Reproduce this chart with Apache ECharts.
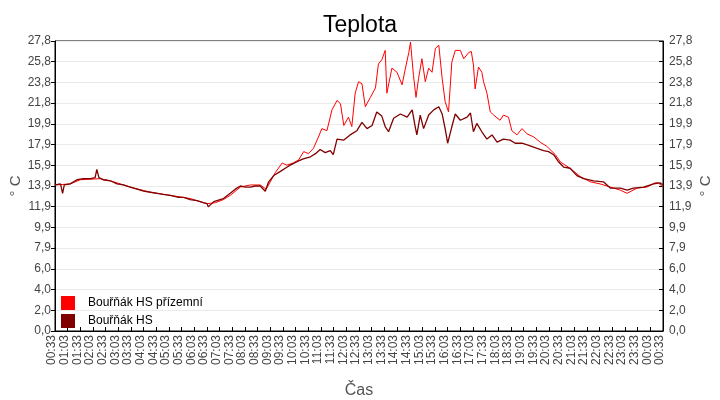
<!DOCTYPE html>
<html>
<head>
<meta charset="utf-8">
<script src="https://cdn.jsdelivr.net/npm/echarts@6/dist/echarts.min.js"></script>
<style>
html,body{margin:0;padding:0;background:#fff;}
#chart{width:720px;height:400px;}
</style>
</head>
<body>
<div id="chart"></div>
<script>
// minutes after 00:33, temperature
var redPoints = [
	[0,14.0],[36,14.1],[60,14.5],[107,14.6],[131,14.4],[178,13.8],[226,13.3],[273,13.0],
	[320,12.7],[344,12.4],[360,12.2],[380,12.3],[399,12.6],[415,13.0],[439,13.8],[463,14.0],
	[486,14.0],[500,13.6],[510,14.3],[522,15.2],[538,16.1],[549,15.9],[564,16.1],[577,16.4],
	[589,17.2],[600,17.0],[612,17.5],[624,18.6],[632,19.4],[644,19.2],[656,21.2],[668,22.1],
	[676,21.8],[684,19.7],[695,20.5],[703,19.6],[711,22.8],[719,23.9],[727,23.7],[735,21.5],
	[747,22.4],[759,23.3],[766,25.6],[774,26.0],[782,26.9],[786,22.8],[798,25.2],[810,24.8],
	[822,23.6],[830,25.2],[838,26.7],[842,27.7],[849,24.5],[855,22.4],[861,24.2],[869,26.1],
	[877,23.9],[885,25.2],[893,24.8],[901,27.1],[909,27.4],[917,24.2],[924,22.0],[932,21.0],
	[940,25.8],[948,26.9],[960,26.9],[968,26.1],[980,26.7],[986,26.8],[991,25.5],[995,23.2],
	[1003,25.3],[1011,24.8],[1015,23.9],[1023,22.8],[1031,21.0],[1039,20.7],[1054,20.2],[1062,20.7],
	[1074,20.5],[1082,19.2],[1094,18.8],[1106,19.4],[1118,18.9],[1134,18.6],[1149,18.1],[1165,17.7],
	[1185,16.9],[1197,16.2],[1220,15.6],[1244,14.8],[1268,14.3],[1291,14.1],[1315,13.8],[1339,13.5],
	[1355,13.2],[1379,13.7],[1402,13.8],[1421,14.2],[1429,14.2],[1440,13.8]
];
var darkPoints = [
	[0,14.0],[13,14.1],[18,13.2],[22,14.0],[36,14.1],[52,14.5],[67,14.6],[84,14.6],
	[95,14.7],[99,15.5],[104,14.7],[114,14.5],[131,14.4],[147,14.1],[162,14.0],[178,13.8],
	[194,13.6],[210,13.4],[226,13.3],[242,13.2],[256,13.1],[273,13.0],[293,12.8],[305,12.8],
	[320,12.6],[336,12.5],[351,12.3],[360,12.2],[363,11.9],[376,12.4],[391,12.6],[399,12.7],
	[415,13.2],[427,13.6],[439,13.9],[451,13.8],[463,13.8],[474,13.9],[486,13.9],[498,13.4],
	[506,14.3],[518,14.9],[534,15.3],[549,15.7],[557,15.9],[577,16.3],[588,16.5],[605,16.7],
	[617,17.0],[628,17.4],[640,17.1],[652,17.3],[659,16.9],[668,18.4],[684,18.3],[699,18.8],
	[715,19.2],[727,20.0],[739,19.4],[751,19.7],[762,21.0],[774,20.6],[782,19.6],[790,19.1],
	[802,20.4],[818,20.8],[834,20.5],[846,21.2],[853,19.6],[857,18.8],[865,20.7],[873,19.4],
	[885,20.7],[897,21.2],[909,21.5],[917,20.8],[924,19.4],[930,18.0],[940,19.6],[948,20.8],
	[960,20.2],[976,20.5],[984,20.9],[991,19.1],[999,19.9],[1011,19.1],[1023,18.4],[1035,18.8],
	[1047,18.1],[1062,18.4],[1078,18.3],[1090,18.0],[1106,18.0],[1122,17.8],[1142,17.5],[1157,17.3],
	[1169,17.2],[1181,16.9],[1193,16.2],[1205,15.7],[1220,15.6],[1236,14.9],[1252,14.6],[1276,14.4],
	[1299,14.3],[1315,13.7],[1339,13.7],[1355,13.5],[1370,13.7],[1394,13.8],[1418,14.1],[1433,14.2],
	[1440,14.0]
];
var seriesNames = ['Bouřňák HS přízemní', 'Bouřňák HS'];
var yMax = 27.8;
var yStep = 27.8 / 14;
var startMinute = 33;  // first tick is 00:33

var font = 'Liberation Sans, Arial, sans-serif';

function timeLabel(v){
	var t = (startMinute + Math.round(v)) % 1440;
	var h = Math.floor(t / 60), m = t % 60;
	return (h < 10 ? '0' + h : h) + ':' + (m < 10 ? '0' + m : m);
}
function tempLabel(v){
	return v.toFixed(1).replace('.', ',');
}

var myChart = echarts.init(document.getElementById('chart'));
var option = {
	animation: false,
	backgroundColor: '#fff',
	title: {
		text: 'Teplota',
		left: 'center',
		top: 9,
		textStyle: {fontFamily: font, fontSize: 23, fontWeight: 'normal', color: '#000'}
	},
	legend: {
		orient: 'vertical',
		left: 61,
		top: 296,
		padding: 0,
		itemWidth: 14,
		itemHeight: 14,
		itemGap: 4,
		icon: 'rect',
		data: seriesNames,
		textStyle: {fontFamily: font, fontSize: 12, color: '#000', padding: [0, 0, 0, 8]}
	},
	grid: {
		left: 55, right: 57, top: 41, bottom: 69,
		show: true, borderColor: '#000', borderWidth: 1,
		outerBoundsMode: 'none'
	},
	xAxis: {
		type: 'value',
		min: 0, max: 1440, interval: 30,
		name: 'Čas',
		nameLocation: 'middle',
		nameGap: 52,
		nameMoveOverlap: false,
		nameTextStyle: {fontFamily: font, fontSize: 16, color: '#555'},
		axisLine: {lineStyle: {color: '#000'}},
		axisTick: {inside: true, length: 4, lineStyle: {color: '#000'}},
		splitLine: {show: false},
		axisLabel: {
			rotate: 90, fontFamily: font, fontSize: 12, color: '#444', margin: 4,
			verticalAlign: 'bottom', lineHeight: 6,
			formatter: timeLabel
		}
	},
	yAxis: [{
		type: 'value', position: 'left',
		min: 0, max: yMax, interval: yStep,
		name: '° C',
		nameLocation: 'middle',
		nameGap: 32,
		nameMoveOverlap: false,
		nameTextStyle: {fontFamily: font, fontSize: 15, color: '#555'},
		axisLine: {show: true, lineStyle: {color: '#000'}},
		axisTick: {show: true, length: 4, lineStyle: {color: '#000'}},
		splitLine: {lineStyle: {color: '#ebebeb'}},
		axisLabel: {fontFamily: font, fontSize: 12, color: '#444', margin: 4, formatter: tempLabel}
	}, {
		type: 'value', position: 'right',
		min: 0, max: yMax, interval: yStep,
		name: '° C',
		nameLocation: 'middle',
		nameGap: 35,
		nameMoveOverlap: false,
		nameTextStyle: {fontFamily: font, fontSize: 15, color: '#555'},
		axisLine: {show: true, lineStyle: {color: '#000'}},
		axisTick: {show: true, inside: true, length: 4, lineStyle: {color: '#000'}},
		splitLine: {show: false},
		axisLabel: {fontFamily: font, fontSize: 12, color: '#444', margin: 6, formatter: tempLabel}
	}],
	series: [{
		name: seriesNames[0],
		type: 'line',
		data: redPoints,
		showSymbol: false,
		color: '#ff0000',
		lineStyle: {width: 1}
	}, {
		name: seriesNames[1],
		type: 'line',
		data: darkPoints,
		showSymbol: false,
		color: '#800000',
		lineStyle: {width: 1.3}
	}]
};
myChart.setOption(option);
</script>
</body>
</html>
